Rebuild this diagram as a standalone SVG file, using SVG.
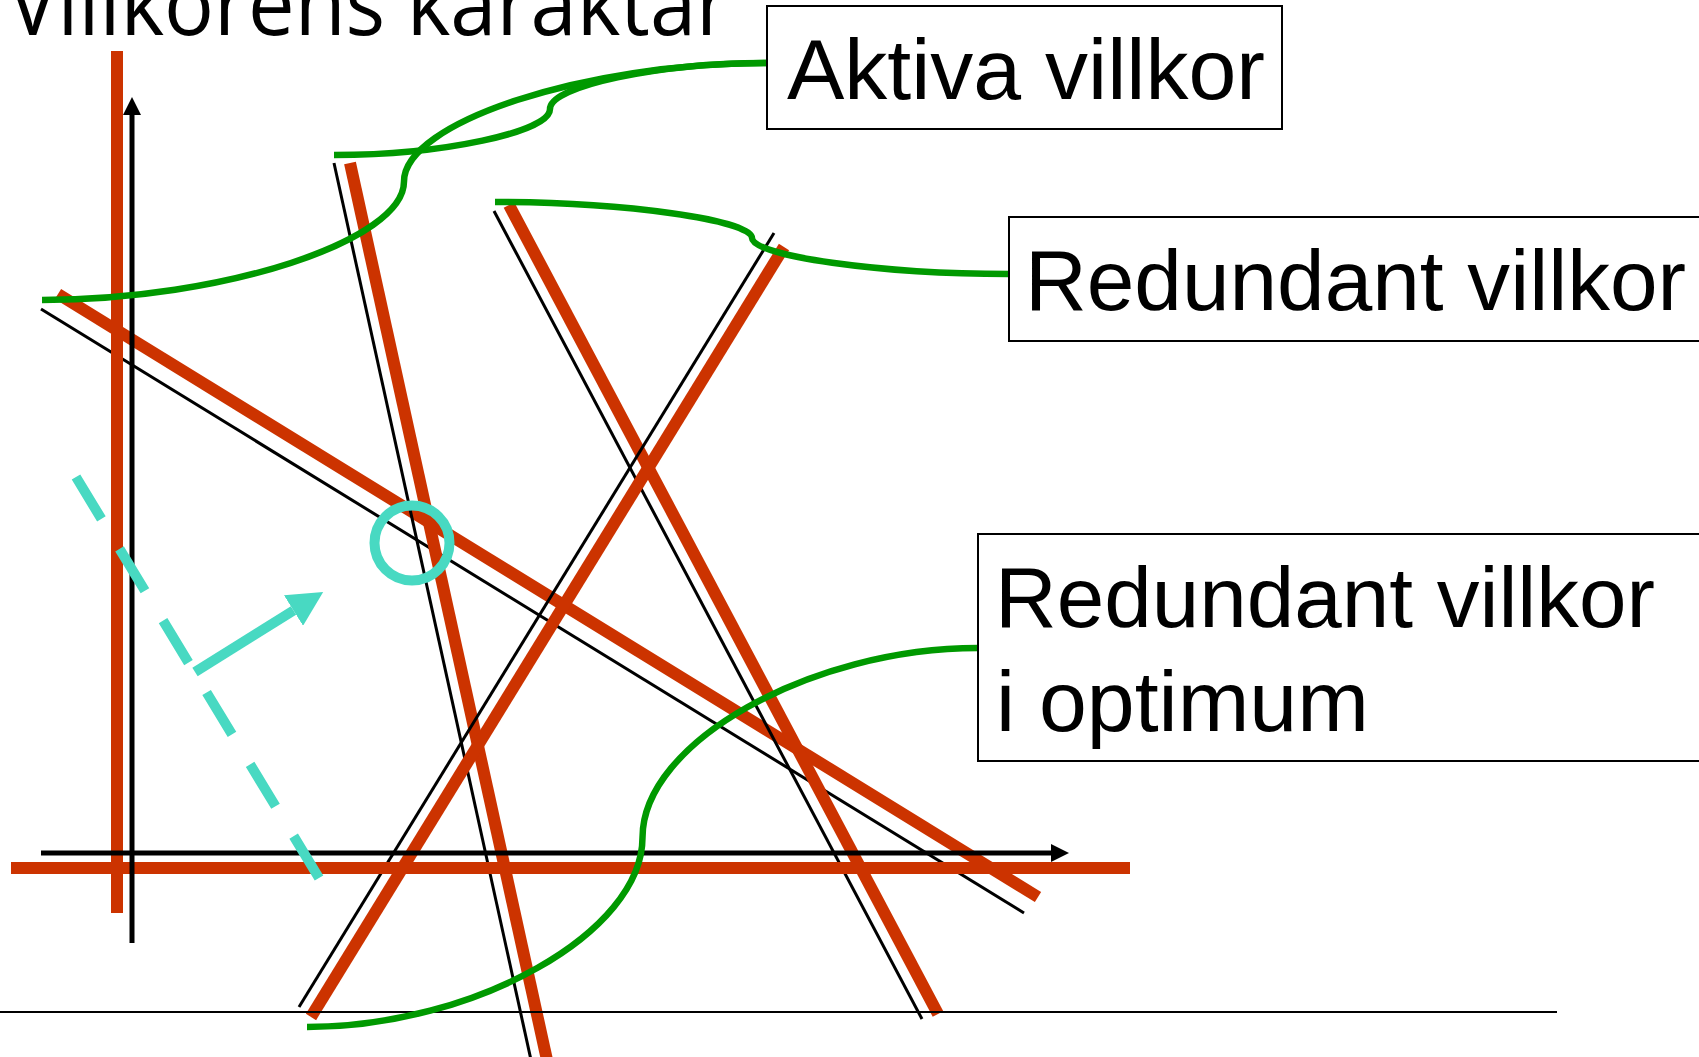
<svg xmlns="http://www.w3.org/2000/svg" width="1699" height="1057" viewBox="0 0 1699 1057">
<defs>
<style>
.red{stroke:#CC3300;stroke-width:12;fill:none}
.thin{stroke:#000;stroke-width:3;fill:none}
.axis{stroke:#000;stroke-width:5;fill:none}
.base{stroke:#000;stroke-width:2;fill:none}
.conn{stroke:#009900;stroke-width:6.5;fill:none}
.cyan{stroke:#48D9C2;stroke-width:10;fill:none}
.box{fill:#fff;stroke:#000;stroke-width:2}
.lbl{font-family:"Liberation Sans",Arial,sans-serif;font-size:86px;fill:#000}
.title{font-family:"Open Sans","Noto Sans",sans-serif;font-size:80px;fill:#000}
</style>
<marker id="axhead" markerUnits="userSpaceOnUse" viewBox="0 0 18 18" refX="0" refY="9" markerWidth="18" markerHeight="18" orient="auto">
<path d="M0,0 L18,9 L0,18 z" fill="#000"/>
</marker>
<marker id="cyhead" markerUnits="userSpaceOnUse" viewBox="0 0 35 36" refX="0" refY="18" markerWidth="35" markerHeight="36" orient="auto">
<path d="M0,0 L35,18 L0,36 z" fill="#48D9C2"/>
</marker>
</defs>
<rect width="1699" height="1057" fill="#fff"/>
<text class="title" x="8" y="35" textLength="722" lengthAdjust="spacingAndGlyphs" transform="translate(0,35) scale(1,1.1) translate(0,-35)">Villkorens karaktär</text>

<g id="constraints">
<line class="thin" x1="41" y1="309" x2="1024" y2="913"/>
<line class="red" x1="58" y1="294" x2="1038" y2="897"/>
<line class="thin" x1="334" y1="163" x2="531" y2="1060"/>
<line class="red" x1="350" y1="163" x2="547" y2="1060"/>
<line class="thin" x1="494" y1="211" x2="922" y2="1019"/>
<line class="red" x1="509" y1="205" x2="938" y2="1014"/>
<line class="thin" x1="299" y1="1007" x2="774" y2="233"/>
<line class="red" x1="311" y1="1017" x2="784" y2="247"/>
<line class="red" x1="117" y1="51" x2="117" y2="913"/>
<line class="red" x1="11" y1="868" x2="1130" y2="868"/>
</g>

<g id="axes">
<line class="axis" x1="132" y1="943" x2="132" y2="115" marker-end="url(#axhead)"/>
<line class="axis" x1="41" y1="853" x2="1051" y2="853" marker-end="url(#axhead)"/>
</g>

<line class="base" x1="0" y1="1012" x2="1557" y2="1012"/>

<g id="objective">
<line class="cyan" x1="76" y1="477" x2="319" y2="878" stroke-dasharray="49 35"/>
<line class="cyan" x1="195" y1="672" x2="293.5" y2="610.5" marker-end="url(#cyhead)"/>
<circle class="cyan" cx="412" cy="543" r="37.5" stroke-width="7"/>
</g>

<g id="connectors">
<path class="conn" d="M766,63 C658,63 550,86 550,109 C550,132 442,155 334,155"/>
<path class="conn" d="M766,63 C585,63 404,122.25 404,181.5 C404,240.75 223,300 42,300"/>
<path class="conn" d="M1009,274 C880.5,274 752,256 752,238 C752,220 623.5,202 495,202"/>
<path class="conn" d="M978,648 C810,648 642.5,742.75 642.5,837.5 C642.5,932.25 474.75,1027 307,1027"/>
</g>

<g id="node-aktiva">
<rect class="box" x="767" y="6" width="515" height="123"/>
<text class="lbl" x="787" y="99">Aktiva villkor</text>
</g>

<g id="node-redundant">
<rect class="box" x="1009" y="217" width="720" height="124"/>
<text class="lbl" x="1025" y="310" textLength="661" lengthAdjust="spacingAndGlyphs">Redundant villkor</text>
</g>

<g id="node-redundant-optimum">
<rect class="box" x="978" y="534" width="750" height="227"/>
<text class="lbl" x="995" y="627" textLength="660" lengthAdjust="spacingAndGlyphs">Redundant villkor</text>
<text class="lbl" x="996" y="731">i optimum</text>
</g>
</svg>
